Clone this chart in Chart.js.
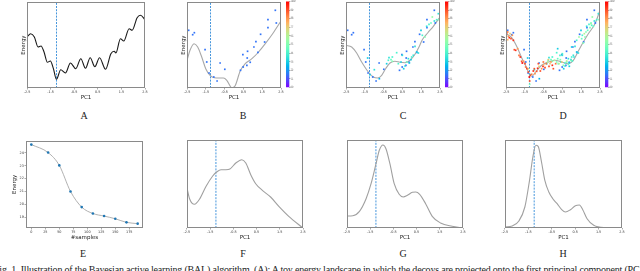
<!DOCTYPE html>
<html><head><meta charset="utf-8">
<script src="https://cdn.jsdelivr.net/npm/chart.js@4"></script>
<style>
html,body{margin:0;padding:0;background:#fff;width:640px;height:271px;overflow:hidden;position:relative}
.lbl{position:absolute;font-family:"Liberation Serif",serif;font-size:10px;line-height:10px;color:#222;transform:translateX(-50%);white-space:nowrap}
#cap{position:absolute;left:-6px;top:265px;font-family:"Liberation Serif",serif;font-size:10px;line-height:10px;letter-spacing:-0.2px;color:#222;white-space:nowrap}
</style></head><body>
<script>
// ---------- data ----------
const PC1_TICKS = [-2.5,-1.5,-0.5,0.5,1.5,2.5];
const BEST_PC1 = -1.25;
const CB_TICKS = [0,1,2,3,4,5,6,7,8,9,10];
const E_X_TICKS = [0,25,50,75,100,125,150,175];
const E_Y_TICKS = [19,20,21,22,23,24];

// A: toy landscape
const A_PC1 = [-2.5,-2.344,-2.188,-2.033,-1.905,-1.778,-1.636,-1.508,-1.381,-1.253,-1.069,-0.871,-0.659,-0.432,-0.220,-0.021,0.177,0.375,0.574,0.829,1.055,1.197,1.267,1.459,1.601,1.827,1.955,2.167,2.309,2.5];
const A_ENERGY = [51.0,54.3,51.0,41.0,42.0,36.0,25.7,27.0,19.3,8.7,18.3,15.0,25.0,19.3,29.3,19.7,30.3,21.3,30.3,18.7,34.3,36.7,35.0,49.3,47.0,59.3,57.7,70.3,72.7,68.3];

// B: first samples + GP mean
const B_CURVE_PC1 = [-2.5,-2.340,-2.126,-1.931,-1.717,-1.504,-1.272,-1.041,-0.792,-0.560,-0.383,-0.116,0.062,0.329,0.596,0.952,1.308,1.664,2.055,2.5];
const B_CURVE_E = [27.7,37.7,44.3,41.0,31.0,19.3,12.7,10.3,10.0,10.0,7.7,0.3,2.3,17.0,24.3,29.3,36.0,44.3,54.3,67.0];
const B_PC1 = [-2.411,-2.198,-2.109,-1.539,-1.450,-1.326,-1.077,-0.899,-0.738,-0.489,0.347,0.490,0.472,0.685,0.703,0.721,0.863,1.059,1.166,1.273,1.415,1.629,1.806,1.806,2.198,2.251];
const B_E = [57.7,53.3,55.3,38.3,26.0,15.0,11.0,7.0,25.0,18.7,17.7,21.0,33.3,22.7,30.0,36.7,25.7,41.0,46.3,35.7,53.7,46.0,60.3,68.3,77.7,65.0];
const B_ITER = [1.5,1.5,1.5,1.5,1.5,1.5,1.5,1.5,1.5,1.5,1.5,1.5,1.5,1.5,1.5,1.5,1.5,1.5,1.5,1.5,1.5,1.5,1.5,1.5,1.5,1.5];

// C
const C_CURVE_PC1 = [-2.5,-2.199,-1.933,-1.667,-1.312,-1.046,-0.816,-0.603,-0.390,-0.160,0.106,0.372,0.638,0.904,1.135,1.383,1.560,1.844,2.145,2.5];
const C_CURVE_E = [42.7,41.0,35.0,26.0,16.0,11.0,10.0,12.7,19.3,25.0,26.7,25.7,25.3,27.7,32.7,41.0,48.3,55.0,61.7,71.0];
const C_PC1 = [-1.348,-1.223,-0.993,-0.727,-0.337,-0.248,-0.213,-0.106,-0.035,0.195,0.426,0.497,0.568,0.638,0.816,0.869,0.993,1.082,1.170,1.259,1.348,1.489,1.560,1.702,1.791,1.915,2.021,2.092,2.199,2.323,2.411,2.447,-0.035,0.284,0.727,0.957];
const C_E = [30.0,13.3,18.3,9.3,24.3,27.7,30.3,28.3,31.0,35.3,26.0,32.7,19.3,22.0,29.3,25.0,31.0,32.7,41.7,36.0,35.0,57.7,52.7,51.0,61.7,63.7,65.0,71.0,67.0,68.3,74.3,68.3,26.7,24.3,26.0,28.3];
const C_ITER = [3,3,3.5,2.5,3,4,3.5,4.5,4,4,3,3.5,3,3.5,3.5,3,4,3.5,3.5,3,3.5,3,4,5,3.5,4,4.5,5.5,3.5,4,3.5,5,5,4,4.5,3];

// D
const D_CURVE_PC1 = [-2.5,-2.199,-1.933,-1.667,-1.401,-1.259,-1.135,-0.922,-0.603,-0.248,0.106,0.461,0.816,1.082,1.348,1.613,1.879,2.234,2.5];
const D_CURVE_E = [54.3,50.3,41.7,30.3,20.3,13.7,11.7,16.0,22.7,26.0,27.7,26.0,24.3,27.7,37.0,46.0,54.3,64.3,77.7];
const D_PC1 = [-2.465,-2.411,-2.376,-2.323,-2.287,-2.234,-2.163,-2.110,-2.411,-2.057,-1.986,-1.879,-1.809,-1.738,-1.667,-1.631,-1.560,-1.489,-1.454,-1.383,-1.312,-1.259,-1.241,-1.241,-1.259,-1.206,-1.135,-1.046,-0.993,-0.957,-0.869,-0.816,-0.745,-0.674,-0.603,-0.532,-0.497,-0.426,-0.355,-0.284,-0.213,-0.160,-0.106,-0.035,0.018,0.071,0.142,0.195,0.248,0.319,0.390,0.461,0.550,0.638,0.727,0.816,0.869,0.957,1.028,1.117,0.372,0.497,0.248,0.993,1.259,1.383,1.525,1.613,1.667,1.755,1.844,1.968,2.057,2.145,2.021,-0.248,-0.514,-0.780,-1.312];
const D_E = [54.3,56.0,51.7,50.3,54.3,49.3,52.7,47.7,48.3,38.3,37.7,39.3,32.7,31.0,26.7,25.0,26.7,24.3,21.0,19.3,16.0,11.0,7.0,3.7,0.3,12.7,13.7,17.0,19.3,14.3,16.7,19.7,21.7,17.0,19.3,21.7,23.3,20.3,24.3,26.0,21.7,24.3,26.0,22.7,19.3,27.7,24.3,26.0,29.3,24.3,28.3,26.0,22.7,25.0,27.0,23.7,21.7,27.7,27.0,31.0,32.7,34.3,39.3,41.0,47.7,51.0,49.3,45.0,54.3,56.0,57.7,60.3,62.7,61.7,64.3,28.3,26.0,24.3,19.3];
const D_ITER = [9,8.5,8,9.5,7,9,8,9.5,7.5,9,9.5,8,8.5,9.5,9,10,8,9,8.5,9.5,9,10,9,5,4,9,8.5,9.5,9,8,9,9.5,7,9,8,9.5,7.5,9,8.5,6,9,7,8,9.5,9,6,8.5,5,4.5,6,5,7,5,4,6,4.5,3,5,4,3.5,4,4,3,3,4,5.5,4.5,5,6,5,4.5,5,4,4.5,5.5,7,8.5,9,7];

// E: entropy vs samples
const E_SAMPLES = [0,30,50,70,90,110,130,150,170,190];
const E_ENERGY = [24.65,24.03,23.03,21.0,19.78,19.28,19.08,18.87,18.59,18.49];

// F, G, H: densities
const F_PC1 = [-2.5,-2.386,-2.172,-1.959,-1.674,-1.389,-1.218,-1.033,-0.819,-0.648,-0.392,-0.135,0.036,0.249,0.463,0.748,1.104,1.460,1.887,2.5];
const F_DENS = [40.3,29.3,23.7,28.7,41.7,52.0,56.0,58.3,58.3,59.0,65.0,68.3,65.0,53.3,44.3,37.7,31.0,21.7,11.7,0];
const G_PC1 = [-2.5,-2.244,-1.959,-1.674,-1.460,-1.246,-1.104,-0.947,-0.819,-0.648,-0.463,-0.249,-0.078,0.107,0.321,0.463,0.634,0.890,1.175,1.531,2.030,2.5];
const G_DENS = [12.0,12.3,16.7,29.3,44.3,64.3,77.7,83.0,79.3,64.3,44.3,33.7,31.0,32.7,35.7,36.0,33.7,24.3,11.7,5.0,1.7,0];
const H_PC1 = [-2.5,-2.188,-1.903,-1.648,-1.449,-1.307,-1.179,-1.080,-0.937,-0.795,-0.625,-0.455,-0.270,-0.085,0.085,0.298,0.511,0.682,0.824,1.009,1.293,1.790,2.5];
const H_DENS = [1.0,2.0,7.0,21.0,47.7,71.0,82.7,81.7,66.0,47.7,36.0,29.3,24.3,18.7,16.0,18.3,22.3,23.0,18.3,9.3,2.7,0.3,0];

// ---------- helpers ----------
const FONT = 'DejaVu Sans';
function rainbow(t){t=Math.min(1,Math.max(0,t));const r=Math.min(1,Math.abs(2*t-0.5)),g=Math.sin(Math.PI*t),b=Math.cos(Math.PI*t/2);
  return `rgb(${Math.round(r*255)},${Math.round(g*255)},${Math.round(b*255)})`;}
const zip=(xs,ys)=>xs.map((x,i)=>({x,y:ys[i]}));
const frame={id:'frame',afterDatasetsDraw(c){const a=c.chartArea,x=c.ctx;x.save();x.strokeStyle='#8a8a8a';x.lineWidth=1;
  x.strokeRect(Math.round(a.left)+0.5,Math.round(a.top)+0.5,Math.round(a.right-a.left)-1,Math.round(a.bottom-a.top)-1);x.restore();}};

function lineDS(xs,ys,color,w,order){return {type:'line',data:zip(xs,ys),borderColor:color,borderWidth:w,pointRadius:0,fill:false,cubicInterpolationMode:'monotone',order};}
function vline(y0,y1){return {type:'line',data:[{x:BEST_PC1,y:y0},{x:BEST_PC1,y:y1}],borderColor:'rgb(70,150,220)',backgroundColor:'rgb(70,150,220)',borderWidth:1,borderDash:[2,1.2],pointRadius:0,fill:false,tension:0,order:5};}
function scatterDS(xs,ys,cs){return {type:'scatter',data:zip(xs,ys),pointStyle:'rect',pointRadius:1.2,pointBorderWidth:0,pointBackgroundColor:cs.map(v=>rainbow(v/10)),order:0};}

function panel(o){
  const [l,t,r,b]=o.box, w=r-l, h=b-t;
  const cw=w+o.L+o.R, ch=h+o.T+o.B;
  const c=document.createElement('canvas');c.width=cw;c.height=ch;
  c.style.cssText=`position:absolute;left:${l-o.L}px;top:${t-o.T}px;width:${cw}px;height:${ch}px`;
  document.body.appendChild(c);
  const tickFont={size:3.4,family:FONT};
  new Chart(c,{type:'scatter',data:{datasets:o.datasets},plugins:[frame],
    options:{responsive:false,animation:false,devicePixelRatio:1,
      layout:{padding:{top:o.T,right:o.R,left:0,bottom:0},autoPadding:false},
      plugins:{legend:{display:false},tooltip:{enabled:false}},
      scales:{
        x:{type:'linear',min:o.x.min,max:o.x.max,
          afterFit(s){s.height=o.B;},
          afterBuildTicks(s){s.ticks=o.x.ticks.map(v=>({value:v}));},
          ticks:{font:tickFont,color:'#333',padding:0.6,maxRotation:0,autoSkip:false,callback:v=>String(v)},
          grid:{drawOnChartArea:false,drawTicks:true,tickLength:1.5,color:'#777',lineWidth:0.6},
          border:{display:false},
          title:{display:true,text:o.x.title,font:{size:5.5,family:FONT},color:'#222',padding:{top:0,bottom:0.4}}},
        y:{type:'linear',min:o.y.min,max:o.y.max,
          afterFit(s){s.width=o.L;},
          afterBuildTicks(s){s.ticks=(o.y.ticks||[]).map(v=>({value:v}));},
          ticks:{display:!!o.y.ticks,font:tickFont,color:'#333',padding:0.6,autoSkip:false,callback:v=>String(v)},
          grid:{display:!!o.y.ticks,drawOnChartArea:false,drawTicks:true,tickLength:1.5,color:'#777',lineWidth:0.6},
          border:{display:false},
          title:{display:!!o.y.title,text:o.y.title||'',font:{size:5.5,family:FONT},color:'#222',padding:{top:0.3,bottom:0}}}
      }}});
}
function colorbar(l,t,w,h){
  const LBL=8;
  const c=document.createElement('canvas');c.width=w+LBL;c.height=h+4;
  c.style.cssText=`position:absolute;left:${l}px;top:${t-2}px;width:${w+LBL}px;height:${h+4}px`;
  document.body.appendChild(c);
  new Chart(c,{type:'bar',data:{labels:[''],datasets:[{data:[CB_TICKS[CB_TICKS.length-1]],borderWidth:0,barPercentage:1,categoryPercentage:1,
      backgroundColor:(ctx)=>{const a=ctx.chart.chartArea;if(!a)return '#888';const g=ctx.chart.ctx.createLinearGradient(0,a.bottom,0,a.top);
        for(let i=0;i<=20;i++)g.addColorStop(i/20,rainbow(i/20));return g;}}]},
    options:{responsive:false,animation:false,devicePixelRatio:1,layout:{padding:{top:2,bottom:2,left:0,right:0},autoPadding:false},
      plugins:{legend:{display:false},tooltip:{enabled:false}},
      scales:{x:{display:false},
        y:{position:'right',min:CB_TICKS[0],max:CB_TICKS[CB_TICKS.length-1],
          afterBuildTicks(s){s.ticks=CB_TICKS.map(v=>({value:v}));},afterFit(s){s.width=LBL;},
          ticks:{font:{size:3.2,family:FONT},color:'#333',padding:0.5,autoSkip:false},
          grid:{drawOnChartArea:false,tickLength:1,color:'#666',lineWidth:0.6},border:{display:false}}}}});
}

const PCX={min:-2.5,max:2.5,ticks:PC1_TICKS,title:'PC1'};
const TOP={L:7,T:2,R:4,B:13};
const TOPY={min:0,max:86,title:'Energy'};
// A
panel({box:[27,2,145,88],...TOP,x:PCX,y:TOPY,datasets:[lineDS(A_PC1,A_ENERGY,'#1a1a1a',1.1,1),vline(0,86)]});
// B
panel({box:[187,2,281,88],...TOP,x:PCX,y:TOPY,datasets:[scatterDS(B_PC1,B_E,B_ITER),lineDS(B_CURVE_PC1,B_CURVE_E,'#a8a8a8',1.1,1),vline(0,86)]});
colorbar(286,1,3.5,87);
// C
panel({box:[346,2,440,88],...TOP,x:PCX,y:TOPY,datasets:[scatterDS(B_PC1.concat(C_PC1),B_E.concat(C_E),B_ITER.concat(C_ITER)),lineDS(C_CURVE_PC1,C_CURVE_E,'#a8a8a8',1.1,1),vline(0,86)]});
colorbar(445,1,3.5,87);
// D
panel({box:[506,2,600,88],...TOP,x:PCX,y:TOPY,datasets:[scatterDS(B_PC1.concat(C_PC1,D_PC1),B_E.concat(C_E,D_E),B_ITER.concat(C_ITER,D_ITER)),lineDS(D_CURVE_PC1,D_CURVE_E,'#a8a8a8',1.1,1),vline(0,86)]});
colorbar(605,1,3.5,87);
// E
panel({box:[26,140,143,228],L:15,T:2,R:4,B:13,x:{min:-9.5,max:199.5,ticks:E_X_TICKS,title:'#samples'},y:{min:18.15,max:24.96,ticks:E_Y_TICKS,title:'Energy'},
  datasets:[{type:'scatter',data:zip(E_SAMPLES,E_ENERGY),pointRadius:1.3,pointBorderWidth:0,pointBackgroundColor:'#1f77b4',order:0},lineDS(E_SAMPLES,E_ENERGY,'#a8a8a8',0.9,1)]});
// F G H
const BOT={L:3,T:2,R:4,B:13};
const BOTY={min:0,max:88};
panel({box:[186,140,303,228],...BOT,x:PCX,y:BOTY,datasets:[lineDS(F_PC1,F_DENS,'#a0a0a0',1.1,1),vline(0,88)]});
panel({box:[346,140,463,228],...BOT,x:PCX,y:BOTY,datasets:[lineDS(G_PC1,G_DENS,'#a0a0a0',1.1,1),vline(0,88)]});
panel({box:[504,140,622,228],...BOT,x:PCX,y:BOTY,datasets:[lineDS(H_PC1,H_DENS,'#a0a0a0',1.1,1),vline(0,88)]});

// panel letters and caption
[['A',84,111],['B',243,111],['C',403,111],['D',563,111],['E',83,249],['F',243,249],['G',403,249],['H',563,249]].forEach(([t,x,y])=>{
  const d=document.createElement('div');d.className='lbl';d.textContent=t;d.style.left=x+'px';d.style.top=y+'px';document.body.appendChild(d);});
const cap=document.createElement('div');cap.id='cap';
cap.textContent='Fig. 1. Illustration of the Bayesian active learning (BAL) algorithm. (A): A toy energy landscape in which the decoys are projected onto the first principal component (PC1)';
document.body.appendChild(cap);
</script>
</body></html>
